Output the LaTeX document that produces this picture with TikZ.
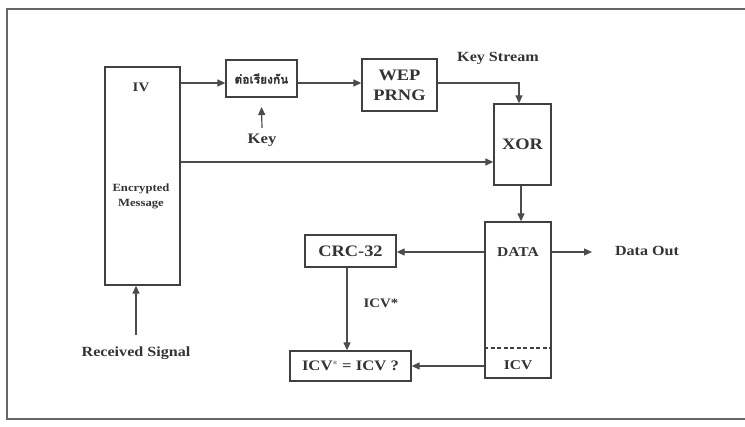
\documentclass[tikz,border=0pt]{standalone}
\usepackage{fontspec}
\setmainfont{Liberation Serif}[FakeStretch=1.15]
\newfontfamily\thaifont[Script=Thai,FakeBold=1.5]{Loma}
\usetikzlibrary{arrows.meta}
\newcommand{\fs}[1]{\bfseries\fontsize{#1}{#1}\selectfont}
\begin{document}
\begin{tikzpicture}[x=1pt,y=-1pt,
  blk/.style={draw=black!75,line width=1.3pt,inner sep=0pt,font=\fs{16},text=black!80},
  lbl/.style={inner sep=0pt,font=\fs{14},text=black!80},
  conn/.style={draw=black!70,line width=1.2pt,-{Triangle[length=8pt,width=7pt]}}]
\useasboundingbox (0,0) rectangle (745,427);
\draw[black!60,line width=1.2pt] (745,9) -- (7,9) -- (7,419) -- (745,419);
% boxes
\node[blk,minimum width=75,minimum height=218] (iv) at (142.5,176) {};
\node[lbl,font=\fs{13}] (ivt) at (141,87) {IV};
\node[lbl,font=\bfseries\fontsize{11}{15}\selectfont,align=center] (enc) at (141,196) {Encrypted\\Message};
\node[blk,minimum width=71,minimum height=37] (cat) at (261.5,78.5) {\thaifont\fontsize{12}{13}\selectfont ต่อเรียงกัน};
\node[blk,minimum width=75,minimum height=52,align=center,font=\bfseries\fontsize{16}{20}\selectfont] (wep) at (399.5,85) {WEP\\PRNG};
\node[blk,minimum width=57,minimum height=81] (xor) at (522.5,144.5) {XOR};
\node[blk,minimum width=66,minimum height=156] (data) at (518,300) {};
\node[lbl,font=\fs{13.5}] (datat) at (518,252) {DATA};
\node[lbl,font=\fs{13.5}] (icvt) at (518,365) {ICV};
\draw[black!75,line width=1.1pt,dash pattern=on 4pt off 2.5pt] (data.west |- 0,348) -- (data.east |- 0,348);
\node[blk,minimum width=91,minimum height=32] (crc) at (350.5,251) {CRC-32};
\node[blk,minimum width=121,minimum height=30,font=\fs{14.5}] (cmp) at (350.5,366) {ICV$^{\ast}$ = ICV ?};
% labels
\node[lbl] (ks) at (498,58) {Key Stream};
\node[lbl,font=\fs{14.5}] (key) at (262,140) {Key};
\node[lbl] (rs) at (136,353) {Received Signal};
\node[lbl] (dout) at (647,251) {Data Out};
\node[lbl,font=\fs{13}] (icvs) at (381,303) {ICV*};
% coordinates
\coordinate (keyend) at (262,128);
\coordinate (rsend) at (136,335);
\coordinate (doutend) at (592,252);
% connectors
\draw[conn] (iv.east |- 0,83) -- (cat.west |- 0,83);
\draw[conn] (cat.east |- 0,83) -- (wep.west |- 0,83);
\draw[conn] (wep.east |- 0,83) -- (519,83) -- (xor.north -| 519,0);
\draw[conn] (iv.east |- 0,162) -- (xor.west |- 0,162);
\draw[conn] (keyend) -- (cat.south |- 0,107);
\draw[conn] (rsend) -- (iv.south -| rsend);
\draw[conn] (xor.south -| 521,0) -- (data.north -| 521,0);
\draw[conn] (data.west |- 0,252) -- (crc.east |- 0,252);
\draw[conn] (data.east |- 0,252) -- (doutend);
\draw[conn] (crc.south -| 347,0) -- (cmp.north -| 347,0);
\draw[conn] (data.west |- 0,366) -- (cmp.east |- 0,366);
\end{tikzpicture}
\end{document}
